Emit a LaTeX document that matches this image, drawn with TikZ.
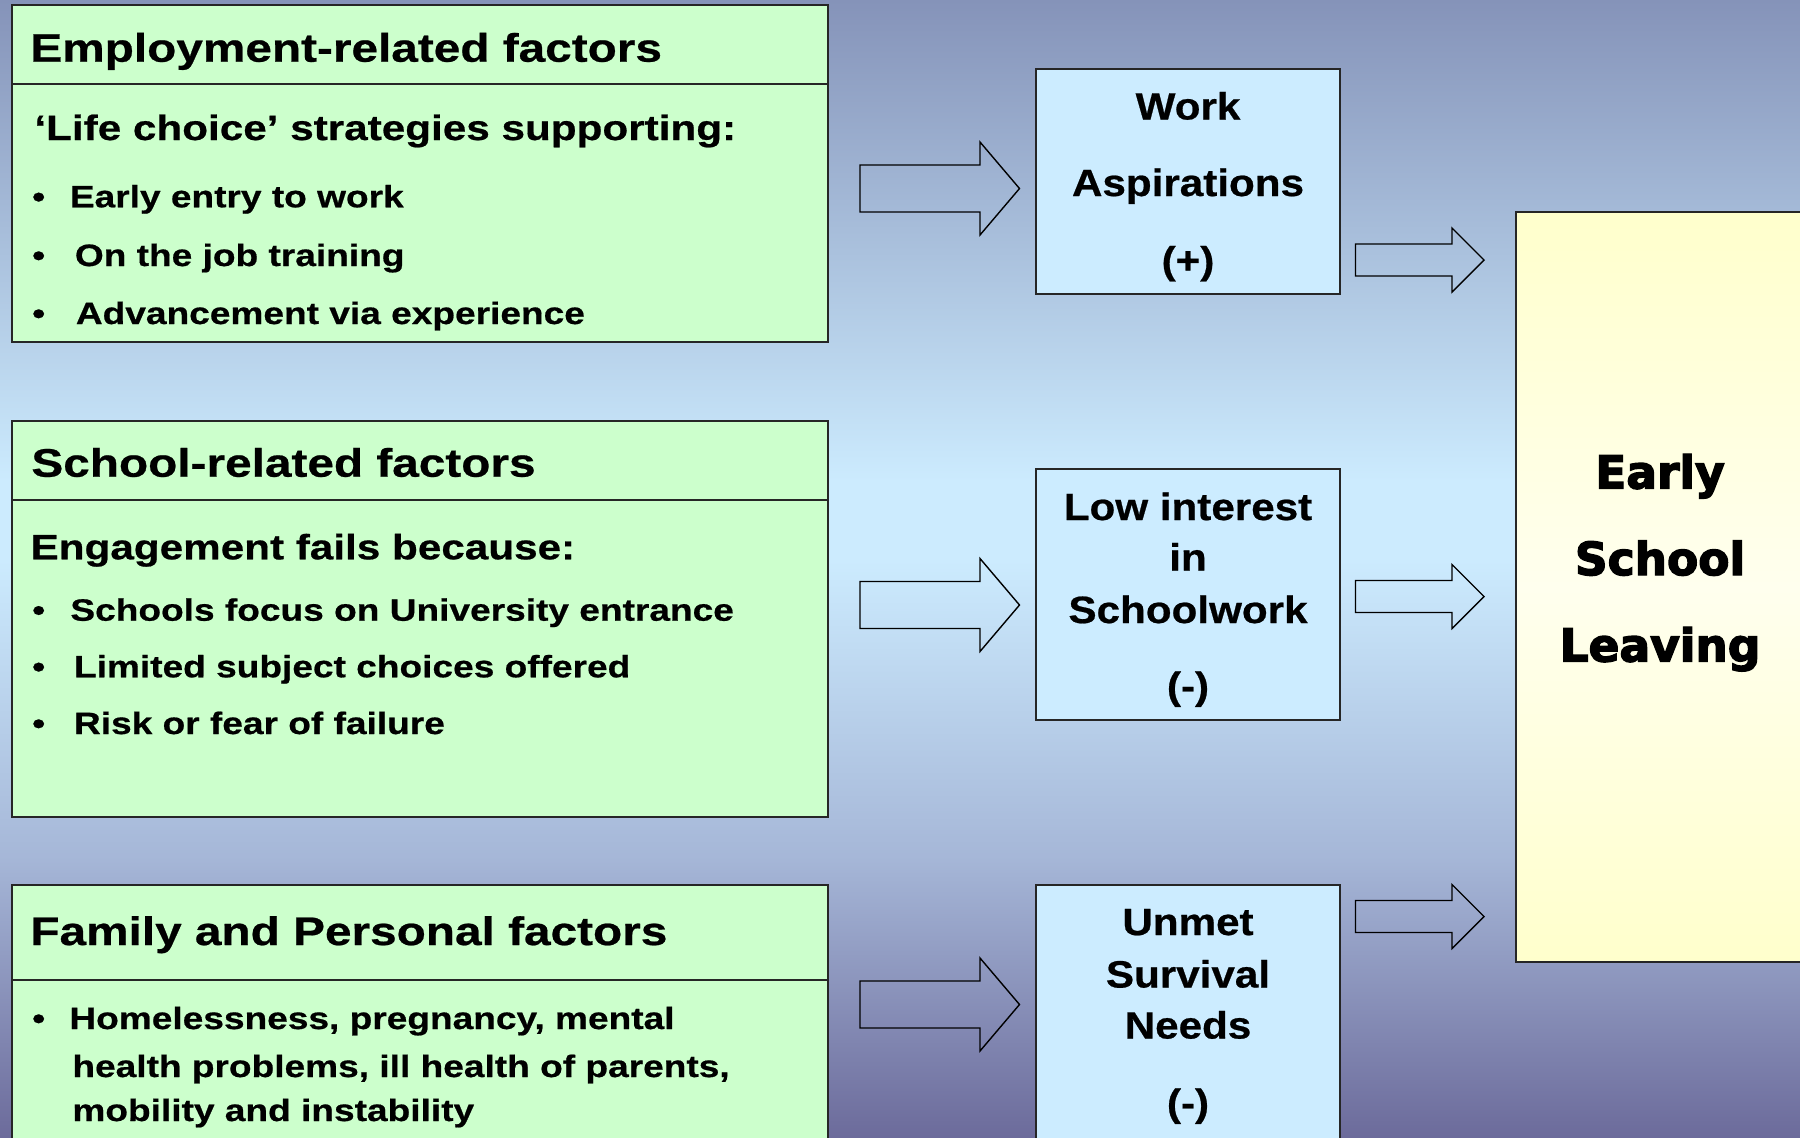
\documentclass[tikz,border=0pt]{standalone}
\usepackage{fontspec}
\setmainfont{Liberation Sans}
\newfontfamily\lfont{Liberation Sans}[FakeStretch=1.2,FakeBold=0.6]
\newfontfamily\rfont{Liberation Sans}[FakeStretch=1.11,FakeBold=0.6]
\newfontfamily\bigfont{DejaVu Sans}[FakeBold=3]
\newcommand\fttl{\lfont\bfseries\fontsize{19.9pt}{24pt}\selectfont}
\newcommand\fsubh{\lfont\bfseries\fontsize{17.6pt}{21pt}\selectfont}
\newcommand\fbul{\lfont\bfseries\fontsize{15.45pt}{19pt}\selectfont}
\newcommand\frb{\rfont\bfseries\fontsize{19pt}{23pt}\selectfont}
\newcommand\fbig{\bigfont\bfseries\fontsize{22.75pt}{27pt}\selectfont}
\definecolor{bgtop}{HTML}{8593B9}
\definecolor{bglight}{HTML}{CCEBFE}
\definecolor{bgmid}{HTML}{A5B6D7}
\definecolor{bgbot}{HTML}{6C6B9B}
\definecolor{boxgreen}{HTML}{CCFFCC}
\definecolor{boxblue}{HTML}{CCECFF}
\definecolor{ylw}{HTML}{FFFFCC}
\definecolor{ylwl}{HTML}{FFFFEE}
\newcommand\blockarrow[6]{%
  \draw[blk] (#1,#4-#5) -- (#2,#4-#5) -- (#2,#4-#6) -- (#3,#4) -- (#2,#4+#6) -- (#2,#4+#5) -- (#1,#4+#5) -- cycle;}
\begin{document}
\begin{tikzpicture}[x=0.5pt,y=-0.5pt,
  gbox/.style={draw=black!85, line width=1pt, fill=boxgreen, anchor=north west, inner sep=0pt, outer sep=0pt},
  bbox/.style={draw=black!85, line width=1pt, fill=boxblue, anchor=north west, inner sep=0pt, outer sep=0pt, minimum width=152pt},
  ybox/.style={draw=black!85, line width=1pt, top color=ylw, bottom color=ylw, middle color=ylwl, anchor=north west, inner sep=0pt, outer sep=0pt},
  txt/.style={anchor=base west, inner sep=0pt},
  ctxt/.style={anchor=base, inner sep=0pt},
  blk/.style={draw=black, line width=0.7pt, line join=miter}
]
\useasboundingbox (0,0) rectangle (1800,1137);
\clip (0,0) rectangle (1800,1137);
% background
\shade[top color=bgtop, bottom color=bglight] (0,0) rectangle (1800,481);
\fill[bglight] (0,480) rectangle (1800,561);
\shade[top color=bglight, bottom color=bgmid] (0,560) rectangle (1800,861);
\shade[top color=bgmid, bottom color=bgbot] (0,860) rectangle (1800,1137);

% left boxes
\node[gbox, minimum width=408.25pt, minimum height=168.75pt] (emp) at (11.5,4.5) {};
\draw[black!85, line width=1pt] (emp.west |- 0,84) -- (emp.east |- 0,84);
\node[gbox, minimum width=408.25pt, minimum height=198pt] (sch) at (11.5,420.5) {};
\draw[black!85, line width=1pt] (sch.west |- 0,500) -- (sch.east |- 0,500);
\node[gbox, minimum width=408.25pt, minimum height=140pt] (fam) at (11.5,884.5) {};
\draw[black!85, line width=1pt] (fam.west |- 0,980) -- (fam.east |- 0,980);

% middle boxes
\node[bbox, minimum height=112.75pt] (work) at (1036,68.5) {};
\node[bbox, minimum height=125.75pt] (low) at (1036,468.5) {};
\node[bbox, minimum height=140pt] (unmet) at (1036,884.5) {};

% right box
\node[ybox, minimum width=150pt, minimum height=375.25pt] (esl) at (1516,211.5) {};

% arrows
\blockarrow{860}{980}{1019.5}{188.5}{23.5}{46.5}
\blockarrow{860}{980}{1019.5}{605}{23.5}{46.5}
\blockarrow{860}{980}{1019.5}{1004.5}{23.5}{46.5}
\blockarrow{1355.5}{1452}{1484}{260}{16}{32}
\blockarrow{1355.5}{1452}{1484}{596.5}{16}{32}
\blockarrow{1355.5}{1452}{1484}{916.5}{16}{32}

% text: employment
\node[txt, font=\fttl] (empT) at (30,61.7) {Employment-related factors};
\node[txt, font=\fsubh] (empS) at (34,140) {‘Life choice’ strategies supporting:};
\node[ctxt, font=\fbul] (empB1) at (38.7,207.3) {•};
\node[txt, font=\fbul] (empI1) at (69.5,207.3) {Early entry to work};
\node[ctxt, font=\fbul] (empB2) at (38.7,266) {•};
\node[txt, font=\fbul] (empI2) at (74.5,266) {On the job training};
\node[ctxt, font=\fbul] (empB3) at (38.7,324) {•};
\node[txt, font=\fbul] (empI3) at (75.5,324) {Advancement via experience};

% text: school
\node[txt, font=\fttl] (schT) at (31,476.7) {School-related factors};
\node[txt, font=\fsubh] (schS) at (30.2,559.3) {Engagement fails because:};
\node[ctxt, font=\fbul] (schB1) at (38.7,620.7) {•};
\node[txt, font=\fbul] (schI1) at (70,620.7) {Schools focus on University entrance};
\node[ctxt, font=\fbul] (schB2) at (38.7,677.3) {•};
\node[txt, font=\fbul] (schI2) at (73.6,677.3) {Limited subject choices offered};
\node[ctxt, font=\fbul] (schB3) at (38.7,734) {•};
\node[txt, font=\fbul] (schI3) at (73.6,734) {Risk or fear of failure};

% text: family
\node[txt, font=\fttl] (famT) at (30,945) {Family and Personal factors};
\node[ctxt, font=\fbul] (famB1) at (38.7,1029) {•};
\node[txt, font=\fbul] (famI1) at (69,1029) {Homelessness, pregnancy, mental};
\node[txt, font=\fbul] (famI2) at (72,1077) {health problems, ill health of parents,};
\node[txt, font=\fbul] (famI3) at (72,1121) {mobility and instability};

% text: middle boxes
\node[ctxt, font=\frb] (workA) at (1188,119.5) {Work};
\node[ctxt, font=\frb] (workB) at (1188,196) {Aspirations};
\node[ctxt, font=\frb] (workC) at (1188,273.5) {(+)};
\node[ctxt, font=\frb] (lowA) at (1188,520) {Low interest};
\node[ctxt, font=\frb] (lowB) at (1188,570.5) {in};
\node[ctxt, font=\frb] (lowC) at (1188,623) {Schoolwork};
\node[ctxt, font=\frb] (lowD) at (1188,699) {(-)};
\node[ctxt, font=\frb] (unA) at (1188,935) {Unmet};
\node[ctxt, font=\frb] (unB) at (1188,987.5) {Survival};
\node[ctxt, font=\frb] (unC) at (1188,1038.5) {Needs};
\node[ctxt, font=\frb] (unD) at (1188,1116) {(-)};

% text: right box
\node[ctxt, font=\fbig] (eslA) at (1660,488.5) {Early};
\node[ctxt, font=\fbig] (eslB) at (1660,575) {School};
\node[ctxt, font=\fbig] (eslC) at (1660,661.5) {Leaving};
\end{tikzpicture}
\end{document}
